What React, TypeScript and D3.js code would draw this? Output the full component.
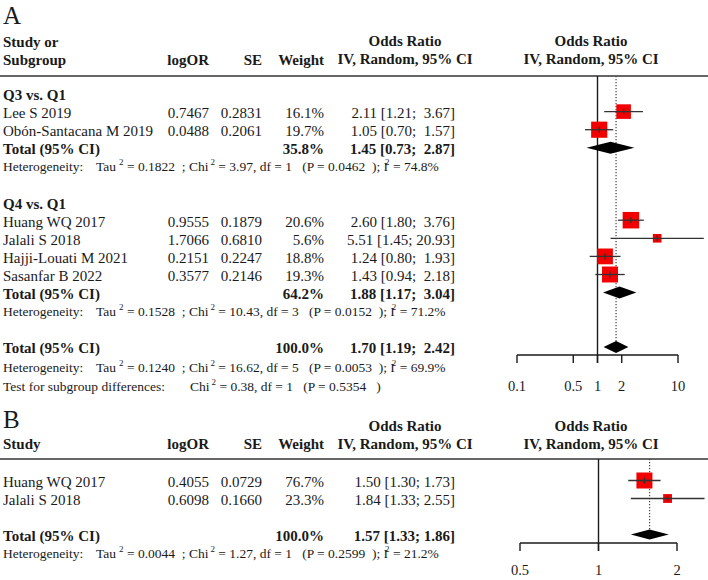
import * as d3 from "d3";

// ---- Panel A: Q3 vs. Q1 ----
const q3Studies = ["Lee S 2019", "Obón-Santacana M 2019"];
const q3LogOR = [0.7467, 0.0488];
const q3SE = [0.2831, 0.2061];
const q3Weight = [16.1, 19.7];
const q3OR = [2.11, 1.05];
const q3Lower = [1.21, 0.7];
const q3Upper = [3.67, 1.57];
const q3Total = [1.45, 0.73, 2.87];
const q3TotalWeight = 35.8;
const q3Het = [0.1822, 3.97, 1, 0.0462, 74.8]; // tau2, chi2, df, p, I2

// ---- Panel A: Q4 vs. Q1 ----
const q4Studies = ["Huang WQ 2017", "Jalali S 2018", "Hajji-Louati M 2021", "Sasanfar B 2022"];
const q4LogOR = [0.9555, 1.7066, 0.2151, 0.3577];
const q4SE = [0.1879, 0.681, 0.2247, 0.2146];
const q4Weight = [20.6, 5.6, 18.8, 19.3];
const q4OR = [2.6, 5.51, 1.24, 1.43];
const q4Lower = [1.8, 1.45, 0.8, 0.94];
const q4Upper = [3.76, 20.93, 1.93, 2.18];
const q4Total = [1.88, 1.17, 3.04];
const q4TotalWeight = 64.2;
const q4Het = [0.1528, 10.43, 3, 0.0152, 71.2];

// ---- Panel A: pooled ----
const allTotal = [1.7, 1.19, 2.42];
const allTotalWeight = 100;
const allHet = [0.124, 16.62, 5, 0.0053, 69.9];
const subgroupTest = [0.38, 1, 0.5354]; // chi2, df, p
const ticksA = [0.1, 0.5, 1, 2, 10];

// ---- Panel B ----
const bStudies = ["Huang WQ 2017", "Jalali S 2018"];
const bLogOR = [0.4055, 0.6098];
const bSE = [0.0729, 0.166];
const bWeight = [76.7, 23.3];
const bOR = [1.5, 1.84];
const bLower = [1.3, 1.33];
const bUpper = [1.73, 2.55];
const bTotal = [1.57, 1.33, 1.86];
const bTotalWeight = 100;
const bHet = [0.0044, 1.27, 1, 0.2599, 21.2];
const ticksB = [0.5, 1, 2];

const W = 708;
const H = 580;
const FONT = '"Liberation Serif", "Times New Roman", Times, serif';
const INK = "#1a1a1a";
const LINE = "#333";
const SMALL = 13.5;

// column anchors
const COL_NAME = 3;
const COL_LOGOR = 209;
const COL_SE = 262;
const COL_WEIGHT = 324;
const COL_CI = 455;
const COL_CI_HEAD = 405;
const COL_PLOT_HEAD = 591;

const pct = (w: number) => `${w.toFixed(1)}%`;
const ciLabel = (or: number, lo: number, hi: number, pad: number) =>
  `${or.toFixed(2)} [${lo.toFixed(2)}; ${hi.toFixed(2).padStart(pad)}]`;

type LogScale = d3.ScaleLogarithmic<number, number>;

function StudyRow(props: {
  cy: number; name: string; logOR: number; se: number; weight: number;
  or: number; lo: number; hi: number; x: LogScale; size: (w: number) => number; pad: number;
}) {
  const { cy, name, logOR, se, weight, or, lo, hi, x, size, pad } = props;
  const s = size(weight);
  const bx = x(or);
  const by = cy - 1.5;
  const ty = cy + 5;
  return (
    <g>
      <text x={COL_NAME} y={ty}>{name}</text>
      <text x={COL_LOGOR} y={ty} textAnchor="end">{logOR.toFixed(4)}</text>
      <text x={COL_SE} y={ty} textAnchor="end">{se.toFixed(4)}</text>
      <text x={COL_WEIGHT} y={ty} textAnchor="end">{pct(weight)}</text>
      <text x={COL_CI} y={ty} textAnchor="end" style={{ whiteSpace: "pre" }}>{ciLabel(or, lo, hi, pad)}</text>
      <rect x={bx - s / 2} y={by - s / 2} width={s} height={s} fill="#f20000" />
      <line x1={x(lo)} x2={Math.min(x(hi), W)} y1={by} y2={by} stroke={LINE} strokeWidth={1.3} />
      <line x1={bx} x2={bx} y1={by - 3} y2={by + 3} stroke={LINE} strokeWidth={1.3} />
    </g>
  );
}

function TotalRow(props: { cy: number; weight: number; est: number[]; x: LogScale; h: number; pad: number }) {
  const { cy, weight, est, x, h, pad } = props;
  const [or, lo, hi] = est;
  const dy = cy - 1.5;
  const ty = cy + 5;
  const path = `M${x(lo)},${dy}L${x(or)},${dy - h}L${x(hi)},${dy}L${x(or)},${dy + h}Z`;
  return (
    <g fontWeight="bold">
      <text x={COL_NAME} y={ty}>Total (95% CI)</text>
      <text x={COL_WEIGHT} y={ty} textAnchor="end">{pct(weight)}</text>
      <text x={COL_CI} y={ty} textAnchor="end" style={{ whiteSpace: "pre" }}>{ciLabel(or, lo, hi, pad)}</text>
      <path d={path} fill="#000" />
    </g>
  );
}

function Sup({ children, dx = 2 }: { children: string; dx?: number }) {
  return <tspan dx={dx} dy={-6} fontSize={9}>{children}</tspan>;
}

function HetLine({ y, vals }: { y: number; vals: number[] }) {
  const [tau2, chi2, df, p, i2] = vals;
  return (
    <text x={COL_NAME} y={y} fontSize={SMALL} style={{ whiteSpace: "pre" }}>
      <tspan>Heterogeneity:</tspan>
      <tspan x={96}>Tau</tspan>
      <Sup dx={3}>2</Sup>
      <tspan dy={6}>{` = ${tau2.toFixed(4)}  ; Chi`}</tspan>
      <Sup>2</Sup>
      <tspan dy={6}>{` = ${chi2.toFixed(2)}, df = ${df}   (P = ${p.toFixed(4)}  ); I`}</tspan>
      <Sup dx={-3}>2</Sup>
      <tspan dy={6}>{` = ${i2.toFixed(1)}%`}</tspan>
    </text>
  );
}

function TestLine({ y, vals }: { y: number; vals: number[] }) {
  const [chi2, df, p] = vals;
  return (
    <text x={COL_NAME} y={y} fontSize={SMALL} style={{ whiteSpace: "pre" }}>
      <tspan>Test for subgroup differences:</tspan>
      <tspan x={190}>Chi</tspan>
      <Sup>2</Sup>
      <tspan dy={6}>{` = ${chi2.toFixed(2)}, df = ${df}   (P = ${p.toFixed(4)}   )`}</tspan>
    </text>
  );
}

function Axis({ x, ticks, y, labelDy }: { x: LogScale; ticks: number[]; y: number; labelDy: number }) {
  const [a, b] = x.range();
  return (
    <g>
      <line x1={a} x2={b} y1={y} y2={y} stroke={INK} strokeWidth={1.4} />
      {ticks.map((t) => (
        <g key={t}>
          <line x1={x(t)} x2={x(t)} y1={y} y2={y + 8} stroke={INK} strokeWidth={1.4} />
          <text x={x(t)} y={y + labelDy} textAnchor="middle" fontSize={14.5}>{String(t)}</text>
        </g>
      ))}
    </g>
  );
}

export default function App() {
  // ---------- panel A ----------
  const xA = d3.scaleLog().domain([0.1, 10]).range([517, 678]);
  const maxWA = d3.max([...q3Weight, ...q4Weight]) as number;
  const sizeA = d3.scaleSqrt().domain([0, maxWA]).range([0, 16.5]);
  const rowA = (i: number) => 95 + 18.1 * i;
  const ruleA = 76;
  const axisA = 355;

  // ---------- panel B ----------
  const xB = d3.scaleLog().domain([0.5, 2]).range([520, 677]);
  const sizeB = d3.scaleSqrt().domain([0, d3.max(bWeight) as number]).range([0, 16]);
  const rowB = (i: number) => 482 + 18 * i;
  const ruleB = 459;
  const axisB = 543;

  const diamondTopA = rowA(14) - 1.5 - 6;
  const diamondTopB = rowB(3) - 1.5 - 5;

  return (
    <svg
      width={W}
      height={H}
      viewBox={`0 0 ${W} ${H}`}
      style={{ position: "absolute", left: 0, top: 0, background: "#fff" }}
      fontFamily={FONT}
      fontSize={15}
      fill={INK}
    >
      {/* ===== A ===== */}
      <text x={3} y={24} fontSize={25}>A</text>
      <g fontWeight="bold">
        <text x={COL_NAME} y={47}>Study or</text>
        <text x={COL_NAME} y={65}>Subgroup</text>
        <text x={COL_LOGOR} y={65} textAnchor="end">logOR</text>
        <text x={COL_SE} y={65} textAnchor="end">SE</text>
        <text x={COL_WEIGHT} y={65} textAnchor="end">Weight</text>
        <text x={COL_CI_HEAD} y={46} textAnchor="middle">Odds Ratio</text>
        <text x={COL_CI_HEAD} y={64} textAnchor="middle">IV, Random, 95% CI</text>
        <text x={COL_PLOT_HEAD} y={46} textAnchor="middle">Odds Ratio</text>
        <text x={COL_PLOT_HEAD} y={64} textAnchor="middle">IV, Random, 95% CI</text>
      </g>
      <line x1={0} x2={W} y1={ruleA} y2={ruleA} stroke={LINE} strokeWidth={1.7} />

      {/* reference lines */}
      <line x1={xA(1)} x2={xA(1)} y1={ruleA} y2={axisA + 8} stroke={INK} strokeWidth={1.4} />
      <line x1={xA(allTotal[0])} x2={xA(allTotal[0])} y1={ruleA} y2={diamondTopA}
        stroke="#444" strokeWidth={1.2} strokeDasharray="1.3 1.7" />

      <text x={COL_NAME} y={rowA(0) + 5} fontWeight="bold">Q3 vs. Q1</text>
      {q3Studies.map((s, i) => (
        <StudyRow key={s} cy={rowA(1 + i)} name={s} logOR={q3LogOR[i]} se={q3SE[i]} weight={q3Weight[i]}
          or={q3OR[i]} lo={q3Lower[i]} hi={q3Upper[i]} x={xA} size={sizeA} pad={5} />
      ))}
      <TotalRow cy={rowA(3)} weight={q3TotalWeight} est={q3Total} x={xA} h={6} pad={5} />
      <HetLine y={rowA(4) + 4} vals={q3Het} />

      <text x={COL_NAME} y={rowA(6) + 5} fontWeight="bold">Q4 vs. Q1</text>
      {q4Studies.map((s, i) => (
        <StudyRow key={s} cy={rowA(7 + i)} name={s} logOR={q4LogOR[i]} se={q4SE[i]} weight={q4Weight[i]}
          or={q4OR[i]} lo={q4Lower[i]} hi={q4Upper[i]} x={xA} size={sizeA} pad={5} />
      ))}
      <TotalRow cy={rowA(11)} weight={q4TotalWeight} est={q4Total} x={xA} h={6} pad={5} />
      <HetLine y={rowA(12) + 4} vals={q4Het} />

      <TotalRow cy={rowA(14)} weight={allTotalWeight} est={allTotal} x={xA} h={6} pad={5} />
      <HetLine y={rowA(15) + 5} vals={allHet} />
      <TestLine y={rowA(16) + 6} vals={subgroupTest} />
      <Axis x={xA} ticks={ticksA} y={axisA} labelDy={36} />

      {/* ===== B ===== */}
      <text x={3} y={428} fontSize={25}>B</text>
      <g fontWeight="bold">
        <text x={COL_NAME} y={449}>Study</text>
        <text x={COL_LOGOR} y={449} textAnchor="end">logOR</text>
        <text x={COL_SE} y={449} textAnchor="end">SE</text>
        <text x={COL_WEIGHT} y={449} textAnchor="end">Weight</text>
        <text x={COL_CI_HEAD} y={431} textAnchor="middle">Odds Ratio</text>
        <text x={COL_CI_HEAD} y={449} textAnchor="middle">IV, Random, 95% CI</text>
        <text x={COL_PLOT_HEAD} y={431} textAnchor="middle">Odds Ratio</text>
        <text x={COL_PLOT_HEAD} y={449} textAnchor="middle">IV, Random, 95% CI</text>
      </g>
      <line x1={0} x2={W} y1={ruleB} y2={ruleB} stroke={LINE} strokeWidth={1.7} />

      <line x1={xB(1)} x2={xB(1)} y1={ruleB} y2={axisB + 8} stroke={INK} strokeWidth={1.4} />
      <line x1={xB(bTotal[0])} x2={xB(bTotal[0])} y1={ruleB} y2={diamondTopB}
        stroke="#444" strokeWidth={1.2} strokeDasharray="1.3 1.7" />

      {bStudies.map((s, i) => (
        <StudyRow key={s} cy={rowB(i)} name={s} logOR={bLogOR[i]} se={bSE[i]} weight={bWeight[i]}
          or={bOR[i]} lo={bLower[i]} hi={bUpper[i]} x={xB} size={sizeB} pad={4} />
      ))}
      <TotalRow cy={rowB(3)} weight={bTotalWeight} est={bTotal} x={xB} h={5} pad={4} />
      <HetLine y={rowB(4) + 4} vals={bHet} />
      <Axis x={xB} ticks={ticksB} y={axisB} labelDy={32} />
    </svg>
  );
}
